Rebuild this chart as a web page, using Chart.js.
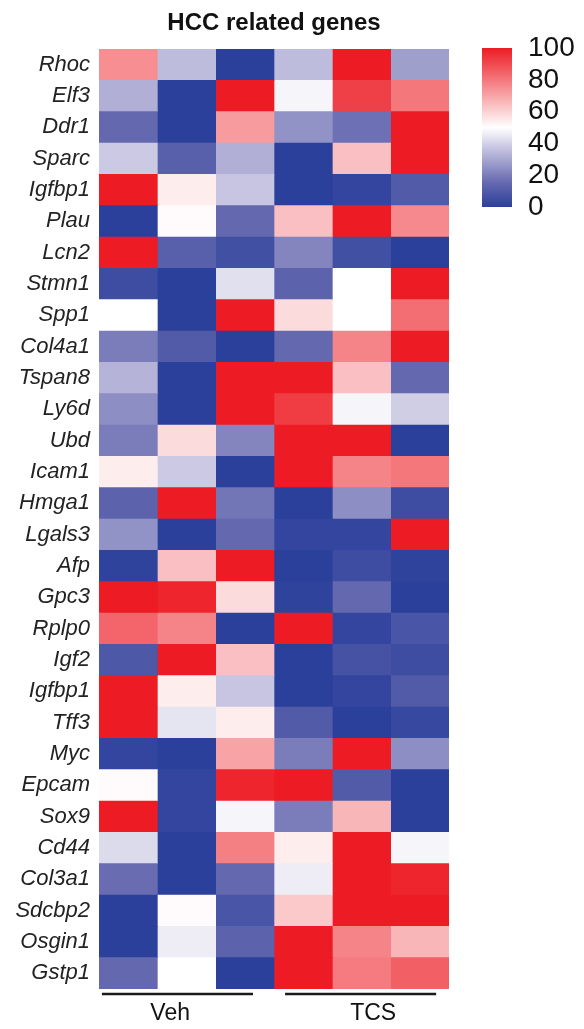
<!DOCTYPE html>
<html>
<head>
<meta charset="utf-8">
<script src="https://cdn.jsdelivr.net/npm/chart.js@4"></script>
<style>
  html, body { margin: 0; padding: 0; background: #fff; }
  #wrap { position: relative; width: 584px; height: 1029px; }
  #heat { position: absolute; left: 0; top: 0; }
  #bar { position: absolute; left: 482px; top: 7.5px; }
</style>
</head>
<body>
<div id="wrap">
  <canvas id="heat" width="584" height="1029"></canvas>
  <canvas id="bar" width="102" height="239"></canvas>
</div>
<script>
// row labels (top to bottom)
const genes = ['Rhoc', 'Elf3', 'Ddr1', 'Sparc', 'Igfbp1', 'Plau', 'Lcn2', 'Stmn1', 'Spp1', 'Col4a1',
  'Tspan8', 'Ly6d', 'Ubd', 'Icam1', 'Hmga1', 'Lgals3', 'Afp', 'Gpc3', 'Rplp0', 'Igf2',
  'Igfbp1', 'Tff3', 'Myc', 'Epcam', 'Sox9', 'Cd44', 'Col3a1', 'Sdcbp2', 'Osgin1', 'Gstp1'];

// relative expression (0-100), one array per sample column
const veh1 = [75, 32, 15, 38, 100, 0, 100, 5, 50, 20, 33, 24, 20, 54, 13, 25, 1, 100, 84, 9, 100, 100, 2, 51, 100, 42, 16, 0, 0, 15];
const veh2 = [35, 0, 0, 12, 54, 51, 12, 0, 0, 10, 0, 0, 58, 38, 100, 0, 64, 98, 77, 100, 54, 44, 0, 2, 2, 0, 0, 51, 46, 50];
const veh3 = [0, 100, 72, 32, 37, 15, 6, 43, 100, 0, 100, 100, 22, 0, 18, 15, 100, 58, 0, 64, 37, 54, 70, 98, 48, 78, 15, 8, 13, 0];
const tcs1 = [35, 48, 25, 0, 0, 64, 22, 13, 58, 15, 100, 93, 100, 100, 0, 2, 0, 1, 100, 0, 0, 10, 20, 100, 20, 54, 46, 62, 100, 100];
const tcs2 = [100, 92, 17, 64, 2, 100, 6, 50, 50, 77, 64, 48, 100, 77, 24, 2, 5, 15, 2, 7, 2, 0, 100, 10, 66, 100, 100, 100, 77, 79];
const tcs3 = [28, 80, 100, 100, 10, 76, 0, 100, 82, 100, 15, 39, 0, 80, 5, 100, 1, 0, 8, 5, 10, 3, 24, 0, 0, 48, 98, 100, 66, 85];
const columns = [veh1, veh2, veh3, tcs1, tcs2, tcs3];

// groups under the columns
const groups = ['Veh', 'TCS'];
const colorTicks = [0, 20, 40, 60, 80, 100];

const FONT = "'Liberation Sans', Arial, sans-serif";

// colour map stops: value -> rgb
const stops = [
  [0, [43, 64, 155]],
  [15, [100, 104, 175]],
  [35, [190, 188, 220]],
  [50, [255, 255, 255]],
  [100, [237, 28, 36]]
];

function valueColor(v) {
  let i = 0;
  while (i < stops.length - 2 && v > stops[i + 1][0]) i++;
  const [v0, c0] = stops[i];
  const [v1, c1] = stops[i + 1];
  const t = Math.max(0, Math.min(1, (v - v0) / (v1 - v0)));
  const c = c0.map((a, k) => Math.round(a + (c1[k] - a) * t));
  return 'rgb(' + c.join(',') + ')';
}

// where the group labels and bars sit, in column units
const groupLabelAt = [1.22, 4.7];
const groupLineSpan = [[0.05, 2.64], [3.19, 5.78]];

const groupLines = {
  id: 'groupLines',
  afterDraw(chart) {
    const x = chart.scales.x;
    const ctx = chart.ctx;
    ctx.save();
    ctx.strokeStyle = '#1a1a1a';
    ctx.lineWidth = 2.5;
    groupLineSpan.forEach(([a, b]) => {
      ctx.beginPath();
      ctx.moveTo(x.getPixelForValue(a), 994);
      ctx.lineTo(x.getPixelForValue(b), 994);
      ctx.stroke();
    });
    ctx.restore();
  }
};

new Chart(document.getElementById('heat'), {
  type: 'bar',
  data: {
    labels: genes,
    datasets: columns.map((vals, c) => ({
      data: genes.map(() => [c, c + 1]),
      backgroundColor: vals.map(valueColor),
      borderWidth: 0,
      barPercentage: 1,
      categoryPercentage: 1,
      grouped: false
    }))
  },
  options: {
    indexAxis: 'y',
    responsive: false,
    animation: false,
    layout: { padding: { left: 0, right: 135, top: 0, bottom: 0 } },
    plugins: {
      legend: { display: false },
      tooltip: { enabled: false },
      title: {
        display: true,
        text: 'HCC related genes',
        fullSize: false,
        color: '#111',
        font: { family: FONT, size: 24, weight: 'bold' },
        padding: { top: 9, bottom: 11.2 }
      }
    },
    scales: {
      y: {
        type: 'category',
        grid: { display: false, drawTicks: false },
        border: { display: false },
        ticks: {
          color: '#222',
          padding: 9,
          font: { family: FONT, size: 22, style: 'italic' }
        },
        afterFit(s) { s.width = 99; }
      },
      x: {
        type: 'linear',
        min: 0,
        max: 6,
        grid: { display: false, drawTicks: false },
        border: { display: false },
        afterBuildTicks(s) { s.ticks = groupLabelAt.map(v => ({ value: v })); },
        ticks: {
          autoSkip: false,
          maxRotation: 0,
          padding: 11,
          color: '#111',
          font: { family: FONT, size: 23 },
          callback: (v, i) => groups[i]
        },
        afterFit(s) { s.height = 40; }
      }
    }
  },
  plugins: [groupLines]
});

// colour key
new Chart(document.getElementById('bar'), {
  type: 'bar',
  data: {
    labels: [''],
    datasets: [{
      data: [[0, 100]],
      borderWidth: 0,
      barPercentage: 1,
      categoryPercentage: 1,
      backgroundColor(ctx) {
        const area = ctx.chart.chartArea;
        if (!area) return valueColor(50);
        const g = ctx.chart.ctx.createLinearGradient(0, area.bottom, 0, area.top);
        for (let v = 0; v <= 100; v += 5) g.addColorStop(v / 100, valueColor(v));
        return g;
      }
    }]
  },
  options: {
    responsive: false,
    animation: false,
    layout: { padding: { top: 40, bottom: 40, left: 0, right: 0 } },
    plugins: { legend: { display: false }, tooltip: { enabled: false } },
    scales: {
      x: { display: false },
      y: {
        position: 'right',
        min: 0,
        max: 100,
        afterBuildTicks(s) { s.ticks = colorTicks.map(v => ({ value: v })); },
        grid: { display: false, drawTicks: false },
        border: { display: false },
        ticks: {
          autoSkip: false,
          padding: 16,
          color: '#111',
          font: { family: FONT, size: 28 }
        },
        afterFit(s) { s.width = 72; }
      }
    }
  }
});
</script>
</body>
</html>
